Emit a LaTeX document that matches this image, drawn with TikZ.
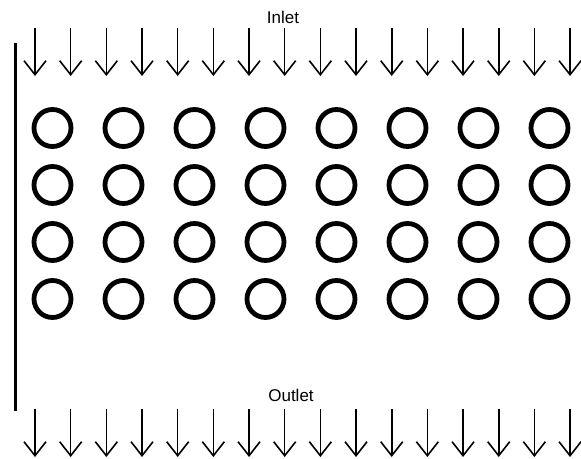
\documentclass[tikz,border=0pt]{standalone}
\usepackage{fontspec}
\setmainfont{Liberation Sans}
\usetikzlibrary{arrows.meta, positioning}
\tikzset{
  every picture/.style={font=\fontsize{17}{19}\selectfont, line width=1.6pt},
  tube/.style={circle, draw=black, line width=4.8pt, minimum size=37pt, inner sep=0pt},
  flow/.style={-{Straight Barb[length=14pt, width=22pt]}, draw=black, line width=1.6pt},
  wall/.style={draw=black, line width=3pt},
  label/.style={font=\fontsize{17}{19}\selectfont, text=black},
}

\begin{document}
\begin{tikzpicture}[x=1pt, y=-1pt]
  % pixel grid: x to the right, y downwards
  \useasboundingbox (0,0) rectangle (581,458);
  \node[label] (inlet) at (283,17) {Inlet};
  \node[label] (outlet) at (291,395) {Outlet};
  \coordinate (wtop) at (15,43);
  \coordinate (wbot) at (15,411);
  \draw[wall] (wtop) -- (wbot);
  \foreach \i in {0,...,15} {
    \coordinate (a\i) at ({35+35.67*\i},28);
    \coordinate (b\i) at ({35+35.67*\i},76);
    \draw[flow] (a\i) -- (b\i);
    \coordinate (c\i) at ({35+35.67*\i},409);
    \coordinate (d\i) at ({35+35.67*\i},457);
    \draw[flow] (c\i) -- (d\i);
  }
  \foreach \r in {0,...,3}
    \foreach \c in {0,...,7}
      \node[tube] (t\r\c) at ({52.5+71*\c},{128+57*\r}) {};
\end{tikzpicture}
\end{document}
